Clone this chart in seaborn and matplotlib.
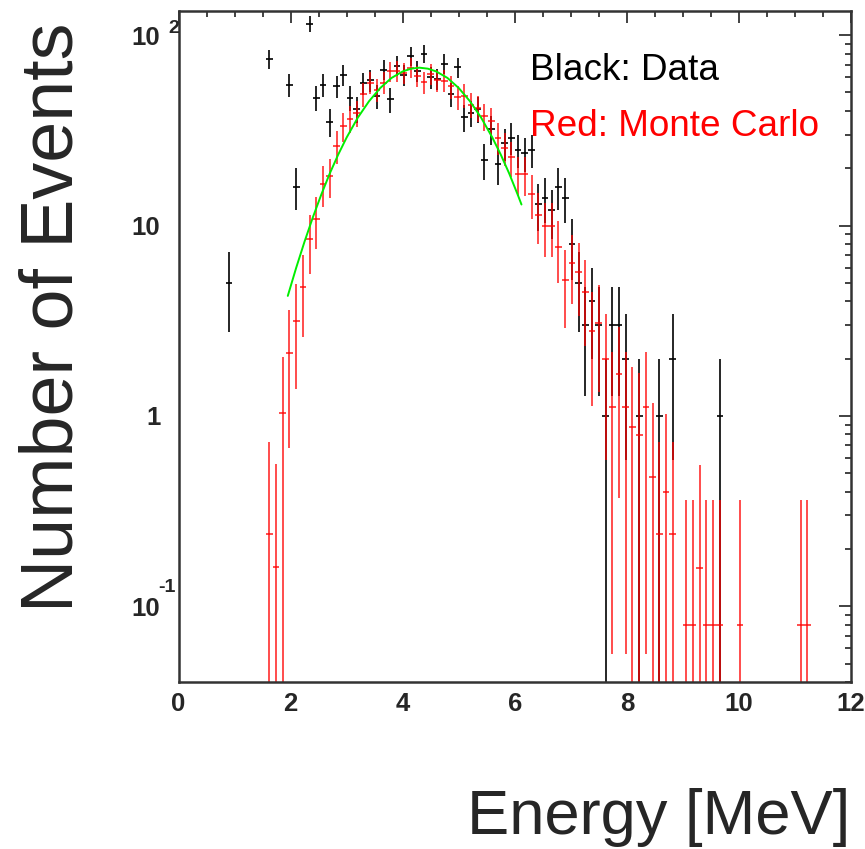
import numpy as np
import matplotlib
matplotlib.use("Agg")
import matplotlib.pyplot as plt
import matplotlib.transforms as mtransforms
from matplotlib.ticker import MultipleLocator, LogLocator, NullFormatter
import seaborn as sns

# Black: data, bin centres (MeV) and counts per 0.12 MeV bin
data_energy = [0.90, 1.62, 1.98, 2.10, 2.34, 2.46, 2.58, 2.70, 2.82, 2.94,
               3.06, 3.18, 3.30, 3.42, 3.54, 3.66, 3.78, 3.90, 4.02, 4.14,
               4.26, 4.38, 4.50, 4.62, 4.74, 4.86, 4.98, 5.10, 5.22, 5.34,
               5.46, 5.58, 5.70, 5.82, 5.94, 6.06, 6.18, 6.30, 6.42, 6.54,
               6.66, 6.78, 6.90, 7.02, 7.14, 7.26, 7.38, 7.50, 7.62, 7.74,
               7.86, 7.98, 8.22, 8.58, 8.82, 9.66]
data_counts = [5, 75, 55, 16, 115, 47, 55, 35, 54, 62,
               47, 41, 56, 58, 48, 66, 46, 69, 62, 78,
               65, 80, 60, 59, 71, 49, 68, 37, 39, 41,
               22, 32, 21, 27, 29, 25, 24, 25, 13, 14,
               12, 16, 14, 8, 5, 3, 4, 3, 1, 3,
               3, 2, 1, 1, 2, 1]

# Red: Monte Carlo, normalised to the data
mc_energy = [1.62, 1.74, 1.86, 1.98, 2.10, 2.22, 2.34, 2.46, 2.58, 2.70,
             2.82, 2.94, 3.06, 3.18, 3.30, 3.42, 3.54, 3.66, 3.78, 3.90,
             4.02, 4.14, 4.26, 4.38, 4.50, 4.62, 4.74, 4.86, 4.98, 5.10,
             5.22, 5.34, 5.46, 5.58, 5.70, 5.82, 5.94, 6.06, 6.18, 6.30,
             6.42, 6.54, 6.66, 6.78, 6.90, 7.02, 7.14, 7.26, 7.38, 7.50,
             7.62, 7.74, 7.86, 7.98, 8.10, 8.22, 8.34, 8.46, 8.58, 8.70,
             8.82, 9.06, 9.18, 9.30, 9.42, 9.54, 9.66, 10.02, 11.10, 11.22]
mc_counts = [0.24, 0.16, 1.03, 2.14, 3.17, 4.78, 8.5, 10.8, 16.6, 18.2,
             26.2, 33.4, 36.5, 39.0, 49.2, 56.4, 51.6, 56.4, 64.5, 65.0,
             63.5, 67.5, 61.0, 56.5, 62.5, 58.0, 57.8, 53.8, 47.5, 48.2,
             43.1, 41.4, 37.4, 35.6, 29.0, 25.7, 22.8, 18.7, 18.7, 14.7,
             11.4, 10.0, 10.0, 7.76, 5.19, 6.39, 5.73, 4.45, 2.8, 3.09,
             2.0, 1.11, 1.66, 1.11, 0.87, 0.79, 1.11, 0.476, 0.24, 0.397,
             0.24, 0.08, 0.08, 0.158, 0.08, 0.08, 0.08, 0.08, 0.08, 0.08]

# Green: gaussian fit curve
fit_energy = [1.95, 2.10, 2.25, 2.40, 2.55, 2.70, 2.85, 3.00, 3.20, 3.40,
              3.60, 3.80, 4.00, 4.15, 4.30, 4.45, 4.60, 4.80, 5.00, 5.20,
              5.40, 5.60, 5.75, 5.90, 6.05, 6.12]
fit_counts = [4.27, 6.0, 8.25, 11.1, 14.6, 18.8, 23.6, 29.0, 36.9, 45.0,
              52.8, 59.6, 64.5, 66.7, 67.5, 66.7, 64.5, 59.6, 52.8, 45.0,
              36.9, 29.0, 23.6, 18.8, 14.6, 12.9]

half_bin = 0.06


def stat_errors(values):
    # poisson-like errors; lower bars that reach zero run off the log axis
    values = np.asarray(values, dtype=float)
    err = np.sqrt(values)
    lower = np.where(values - err > 0, err, values - 1e-4)
    return values, [lower, err]


sns.set_theme(style="white")
plt.rcParams['font.family'] = ['Liberation Sans', 'DejaVu Sans']

fig = plt.figure(figsize=(8.65, 8.49), dpi=100)
ax = fig.add_axes([178.5 / 865, 1 - 682 / 849, 672.5 / 865, 671 / 849])

y_data, yerr_data = stat_errors(data_counts)
y_mc, yerr_mc = stat_errors(mc_counts)

ax.errorbar(data_energy, y_data, xerr=half_bin, yerr=yerr_data, fmt='none',
            ecolor='black', elinewidth=1.4, capsize=0, alpha=0.85)
ax.errorbar(mc_energy, y_mc, xerr=half_bin, yerr=yerr_mc, fmt='none',
            ecolor='#ff0000', elinewidth=1.4, capsize=0, alpha=0.7)
sns.lineplot(x=fit_energy, y=fit_counts, color='#00ee00', lw=1.4,
             sort=False, estimator=None, ax=ax)

ax.set_yscale('log')
ax.set_xlim(0, 12)
ax.set_ylim(0.04, 134)

# ROOT-like ticks: inside, on all four sides
ax.xaxis.set_major_locator(MultipleLocator(2))
ax.xaxis.set_minor_locator(MultipleLocator(0.5))
ax.set_yticks([0.1, 1, 10, 100])
ax.set_yticklabels(['10', '1', '10', '10'])
ax.yaxis.set_minor_locator(LogLocator(base=10, subs=range(2, 10)))
ax.yaxis.set_minor_formatter(NullFormatter())
ax.tick_params(which='both', direction='in', top=True, right=True,
               width=1.3, color='#333333', labelsize=18.5)
ax.tick_params(which='major', length=8.6)
ax.tick_params(which='minor', length=4.3)
ax.tick_params(axis='x', pad=7)
ax.tick_params(axis='y', pad=13)
for lbl in ax.get_xticklabels() + ax.get_yticklabels():
    lbl.set_fontweight('bold')

for spine in ax.spines.values():
    spine.set_linewidth(1.8)
    spine.set_color('#333333')

# exponents of the 10^2 and 10^-1 labels
trans = mtransforms.blended_transform_factory(ax.transAxes, ax.transData)
ax.text(-0.0156, 103, '2', transform=trans, ha='left', va='baseline',
        fontsize=14, fontweight='bold')
ax.text(-0.0305, 0.119, '-1', transform=trans, ha='left', va='baseline',
        fontsize=14, fontweight='bold')

ax.text(0.5227, 0.897, 'Black: Data', transform=ax.transAxes,
        fontsize=26.6, color='black', va='baseline')
ax.text(0.5227, 0.814, 'Red: Monte Carlo', transform=ax.transAxes,
        fontsize=26.6, color='#ff0000', va='baseline')

ax.set_ylabel('Number of Events', fontsize=53, va='baseline')
ax.yaxis.set_label_coords(-0.158, 0.544)
ax.set_xlabel('Energy [MeV]', fontsize=45.5, ha='right', va='baseline')
ax.xaxis.set_label_coords(0.9985, -0.2265)

fig.savefig('out.png', dpi=100)
